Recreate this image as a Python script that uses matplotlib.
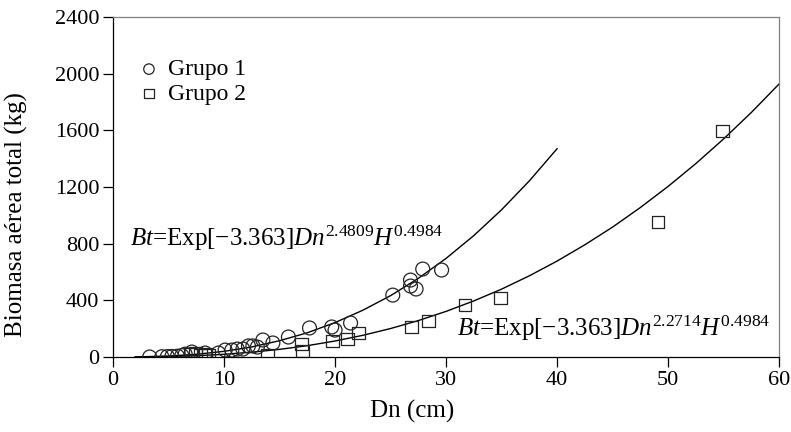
import matplotlib
matplotlib.use("Agg")
import matplotlib.pyplot as plt

plt.rcParams["font.family"] = ["Liberation Serif", "DejaVu Serif"]
plt.rcParams["mathtext.fontset"] = "custom"
plt.rcParams["mathtext.rm"] = "Liberation Serif"
plt.rcParams["mathtext.it"] = "Liberation Serif:italic"

# Grupo 1 (circulos)
g1_dn = [3.3, 4.4, 4.9, 5.3, 5.8, 6.2, 6.5, 7.1, 8.3, 9.5, 10.1, 10.7, 11.2, 11.7,
         12.2, 12.6, 13.0, 13.5, 14.4, 15.8, 17.7, 19.7, 20.0, 21.4, 25.2, 26.8,
         26.8, 27.3, 27.9, 29.6]
g1_bt = [0, 2, 3, 4, 6, 10, 20, 35, 28, 28, 49, 49, 56, 56,
         78, 78, 70, 120, 99, 141, 205, 212, 190, 240, 437, 543,
         501, 480, 621, 614]

# Grupo 2 (cuadrados)
g2_dn = [7.0, 7.4, 7.9, 8.3, 8.6, 13.9, 17.0, 17.1, 19.8, 21.1, 22.1, 26.9, 28.4,
         31.7, 34.9, 49.1, 54.9]
g2_bt = [15, 22, 10, 18, 12, 12, 92, 42, 113, 127, 169, 212, 254,
         367, 416, 953, 1595]

# curvas ajustadas
c1_dn = [2, 5, 7.5, 10, 12.5, 15, 17.5, 20, 22.5, 25, 27.5, 30, 32.5, 35, 37.5, 40]
c1_bt = [0.6, 6.6, 19, 40, 71, 115, 171, 243, 330, 433, 555, 696, 857, 1039, 1243, 1470]

c2_dn = [2, 5, 7.5, 10, 12.5, 15, 17.5, 20, 22.5, 25, 27.5, 30, 32.5, 35, 37.5, 40,
         42.5, 45, 47.5, 50, 52.5, 55, 57.5, 60]
c2_bt = [0.3, 3.2, 9, 19, 34, 54, 80, 113, 153, 201, 257, 322, 396, 479, 573, 677,
         792, 917, 1055, 1204, 1365, 1539, 1726, 1927]

fig = plt.figure(figsize=(7.91, 4.32), dpi=100)
ax = fig.add_axes([0.1429, 0.1736, 0.842, 0.787])

ax.plot(c1_dn, c1_bt, color="black", lw=1.0, zorder=2)
ax.plot(c2_dn, c2_bt, color="black", lw=1.0, zorder=2)

ax.scatter(g1_dn, g1_bt, s=100, marker="o", facecolors="none", edgecolors="#222222",
           linewidths=0.9, label="Grupo 1", zorder=3)
ax.scatter(g2_dn, g2_bt, s=85, marker="s", facecolors="none", edgecolors="#222222",
           linewidths=0.9, label="Grupo 2", zorder=3)

ax.set_xlim(0, 60)
ax.set_ylim(0, 2400)
ax.set_xticks([0, 10, 20, 30, 40, 50, 60])
ax.set_yticks([0, 400, 800, 1200, 1600, 2000, 2400])
ax.tick_params(direction="out", length=7, width=0.9, labelsize=16, pad=3)

for s in ["top", "right"]:
    ax.spines[s].set_color("#808080")
    ax.spines[s].set_linewidth(0.9)
for s in ["left", "bottom"]:
    ax.spines[s].set_linewidth(0.9)

ax.set_xlabel("Dn (cm)", fontsize=18)
ax.xaxis.set_label_coords(0.449, -0.125)
ax.set_ylabel("Biomasa aérea total (kg)", fontsize=18)
ax.yaxis.set_label_coords(-0.127, 0.42)

ax.text(1.5, 840, "$Bt$=Exp[−3.363]$Dn^{2.4809}H^{0.4984}$", fontsize=18,
        ha="left", va="center")
ax.text(31.0, 200, "$Bt$=Exp[−3.363]$Dn^{2.2714}H^{0.4984}$", fontsize=18,
        ha="left", va="center")

ax.legend(loc="upper left", bbox_to_anchor=(0.022, 0.905), frameon=False,
          fontsize=17, markerscale=0.75, handletextpad=0.3, labelspacing=0.12,
          handlelength=1.0, borderaxespad=0)

plt.savefig("out.png", dpi=100)
